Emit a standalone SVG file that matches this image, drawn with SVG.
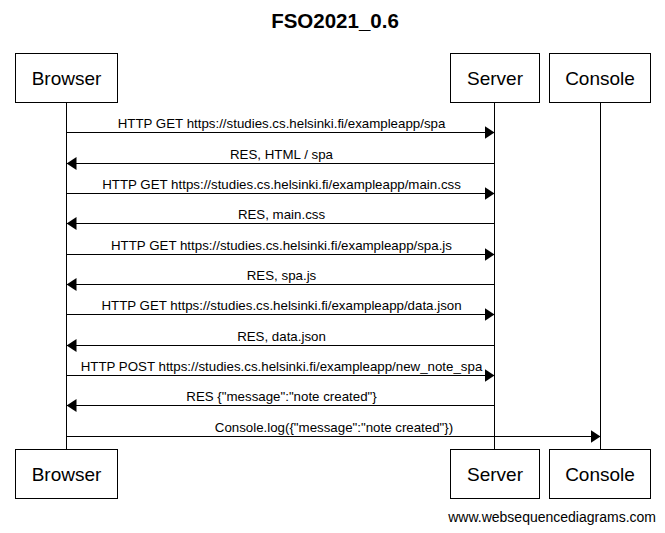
<svg xmlns="http://www.w3.org/2000/svg" width="665" height="533" viewBox="0 0 665 533">
<style>
  .box { fill: #ffffff; stroke: #000000; stroke-width: 1; }
  .name { font-family: "Liberation Sans", Arial, sans-serif; font-size: 19px; fill: #000000; text-anchor: middle; }
  .life { stroke: #000000; stroke-width: 1; fill: none; }
  .msg { stroke: #000000; stroke-width: 1; fill: none; marker-end: url(#ah); }
  .lbl { font-family: "Liberation Sans", Arial, sans-serif; font-size: 13.3px; fill: #000000; text-anchor: middle; }
  .title { font-family: "Liberation Sans", Arial, sans-serif; font-size: 20.5px; font-weight: bold; fill: #000000; text-anchor: middle; }
  .foot { font-family: "Liberation Sans", Arial, sans-serif; font-size: 14px; fill: #000000; text-anchor: end; }
</style>
<defs>
  <marker id="ah" markerUnits="userSpaceOnUse" markerWidth="10" markerHeight="13" refX="10" refY="6.5" orient="auto">
    <path d="M0,0 L10,6.5 L0,13 Z" fill="#000000"/>
  </marker>
</defs>
<rect x="0" y="0" width="665" height="533" fill="#ffffff"/>
<text class="title" x="335" y="28">FSO2021_0.6</text>

<g id="lifelines">
  <line class="life" x1="66.5" y1="102.5" x2="66.5" y2="449.5"/>
  <line class="life" x1="494.5" y1="102.5" x2="494.5" y2="449.5"/>
  <line class="life" x1="600.5" y1="102.5" x2="600.5" y2="449.5"/>
</g>

<g id="browser-top">
  <rect class="box" x="15.5" y="53.5" width="102" height="49"/>
  <text class="name" x="66.5" y="85">Browser</text>
</g>
<g id="server-top">
  <rect class="box" x="450.5" y="53.5" width="89" height="49"/>
  <text class="name" x="495" y="85">Server</text>
</g>
<g id="console-top">
  <rect class="box" x="549.5" y="53.5" width="101" height="49"/>
  <text class="name" x="600" y="85">Console</text>
</g>
<g id="browser-bottom">
  <rect class="box" x="15.5" y="449.5" width="102" height="49"/>
  <text class="name" x="66.5" y="481">Browser</text>
</g>
<g id="server-bottom">
  <rect class="box" x="450.5" y="449.5" width="89" height="49"/>
  <text class="name" x="495" y="481">Server</text>
</g>
<g id="console-bottom">
  <rect class="box" x="549.5" y="449.5" width="101" height="49"/>
  <text class="name" x="600" y="481">Console</text>
</g>

<g id="connectors">
  <line class="msg" x1="67" y1="132.5" x2="494.5" y2="132.5"/>
  <text class="lbl" x="281.5" y="128">HTTP GET https://studies.cs.helsinki.fi/exampleapp/spa</text>

  <line class="msg" x1="494" y1="163.5" x2="66.5" y2="163.5"/>
  <text class="lbl" x="281.5" y="159">RES, HTML / spa</text>

  <line class="msg" x1="67" y1="193.5" x2="494.5" y2="193.5"/>
  <text class="lbl" x="281.5" y="189">HTTP GET https://studies.cs.helsinki.fi/exampleapp/main.css</text>

  <line class="msg" x1="494" y1="223.5" x2="66.5" y2="223.5"/>
  <text class="lbl" x="281.5" y="219">RES, main.css</text>

  <line class="msg" x1="67" y1="254.5" x2="494.5" y2="254.5"/>
  <text class="lbl" x="281.5" y="250">HTTP GET https://studies.cs.helsinki.fi/exampleapp/spa.js</text>

  <line class="msg" x1="494" y1="284.5" x2="66.5" y2="284.5"/>
  <text class="lbl" x="281.5" y="280">RES, spa.js</text>

  <line class="msg" x1="67" y1="314.5" x2="494.5" y2="314.5"/>
  <text class="lbl" x="281.5" y="310">HTTP GET https://studies.cs.helsinki.fi/exampleapp/data.json</text>

  <line class="msg" x1="494" y1="345.5" x2="66.5" y2="345.5"/>
  <text class="lbl" x="281.5" y="341">RES, data.json</text>

  <line class="msg" x1="67" y1="375.5" x2="494.5" y2="375.5"/>
  <text class="lbl" x="281.5" y="371">HTTP POST https://studies.cs.helsinki.fi/exampleapp/new_note_spa</text>

  <line class="msg" x1="494" y1="405.5" x2="66.5" y2="405.5"/>
  <text class="lbl" x="281.5" y="401">RES {"message":"note created"}</text>

  <line class="msg" x1="67" y1="436.5" x2="600.5" y2="436.5"/>
  <text class="lbl" x="334" y="432">Console.log({"message":"note created"})</text>
</g>

<text class="foot" x="656" y="522">www.websequencediagrams.com</text>
</svg>
